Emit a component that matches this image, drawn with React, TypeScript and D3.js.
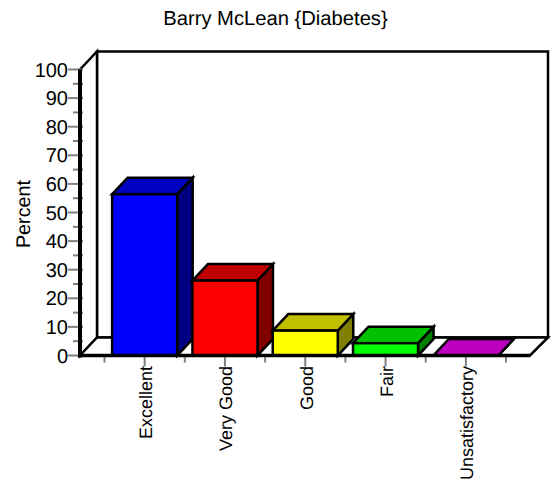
import React from "react";
import * as d3 from "d3";

const title = "Barry McLean {Diabetes}";
const yLabel = "Percent";
const categories = ["Excellent", "Very Good", "Good", "Fair", "Unsatisfactory"];
const values = [56.4, 26.2, 8.7, 4.3, 0];
const frontColors = ["#0000ff", "#ff0000", "#ffff00", "#00ff00", "#c000c0"];
const topColors = ["#0000c0", "#c00000", "#c0c000", "#00c000", "#c000c0"];
const sideColors = ["#000080", "#800000", "#808000", "#008000", "#800080"];
const majorTicks = [0, 10, 20, 30, 40, 50, 60, 70, 80, 90, 100];
const minorTicks = [5, 15, 25, 35, 45, 55, 65, 75, 85, 95];

const font = "'Liberation Sans', Arial, sans-serif";
const DX = 17;
const DY = 18;
const BDX = 15.5;
const BDY = 16.5;

export default function App() {
  const y = d3.scaleLinear().domain([0, 100]).range([355.5, 69.5]);
  const x = d3.scaleBand<string>().domain(categories).range([104.5, 506]).paddingInner(0.19).paddingOuter(0.095);
  const boundary = d3.scaleLinear().domain([0, 5]).range([104.5, 506]);
  const x0 = 80, x1 = 530;
  const y0 = y(0), yT = y(100);
  const pts = (p: number[][]) => p.map(q => q.join(",")).join(" ");
  return (
    <svg width={552} height={480} style={{ position: "absolute", left: 0, top: 0, background: "#fff" }} fontFamily={font} textRendering="geometricPrecision">
      <text x={275.5} y={25} fontSize={20.2} textAnchor="middle" fill="#000">{title}</text>
      <text transform="translate(30,214) rotate(-90)" fontSize={19.8} textAnchor="middle" fill="#000">{yLabel}</text>

      <polygon points={pts([[x0 + DX, yT - DY], [x1 + DX + 1, yT - DY], [x1 + DX + 1, y0 - DY], [x0 + DX, y0 - DY]])} fill="#fff" stroke="#000" strokeWidth={2.5} />
      <polygon points={pts([[x0, yT], [x0 + DX, yT - DY], [x0 + DX, y0 - DY], [x0, y0]])} fill="#fff" stroke="#000" strokeWidth={2.5} />
      <polygon points={pts([[x0, y0], [x0 + DX, y0 - DY], [x1 + DX + 1, y0 - DY], [x1, y0]])} fill="#fff" stroke="#000" strokeWidth={2.5} />

      {majorTicks.map(t => (
        <g key={t}>
          <line x1={68} x2={83} y1={y(t)} y2={y(t)} stroke="#808080" strokeWidth={2} />
          <text x={68} y={y(t) + 7} fontSize={20} textAnchor="end" fill="#000">{t}</text>
        </g>
      ))}
      {minorTicks.map(t => (
        <line key={t} x1={73} x2={83} y1={y(t)} y2={y(t)} stroke="#808080" strokeWidth={2} />
      ))}
      {d3.range(6).map(i => (
        <line key={i} x1={boundary(i)} x2={boundary(i)} y1={y0} y2={y0 + 7} stroke="#808080" strokeWidth={2} />
      ))}
      {categories.map(c => {
        const cx = x(c)! + x.bandwidth() / 2;
        return <line key={c} x1={cx} x2={cx} y1={y0} y2={y0 + 11} stroke="#808080" strokeWidth={2} />;
      })}

      {categories.map((c, i) => {
        const l = x(c)!, r = l + x.bandwidth(), t = y(values[i]);
        return (
          <g key={c} stroke="#000" strokeWidth={2.5} strokeLinejoin="miter">
            <polygon points={pts([[r, t], [r + BDX, t - BDY], [r + BDX, y0 - BDY], [r, y0]])} fill={sideColors[i]} />
            <polygon points={pts([[l, t], [l + BDX, t - BDY], [r + BDX, t - BDY], [r, t]])} fill={topColors[i]} />
            <rect x={l} y={t} width={r - l} height={y0 - t} fill={frontColors[i]} />
          </g>
        );
      })}

      <line x1={x0} x2={x0} y1={yT} y2={y0 + 2} stroke="#000" strokeWidth={4} />
      <line x1={x0 - 1} x2={x1} y1={y0} y2={y0} stroke="#000" strokeWidth={3.5} />

      {categories.map(c => {
        const cx = x(c)! + x.bandwidth() / 2;
        return (
          <text key={c} transform={`translate(${cx + 7.5},366) rotate(-90)`} fontSize={18} textAnchor="end" fill="#000">{c}</text>
        );
      })}
    </svg>
  );
}
